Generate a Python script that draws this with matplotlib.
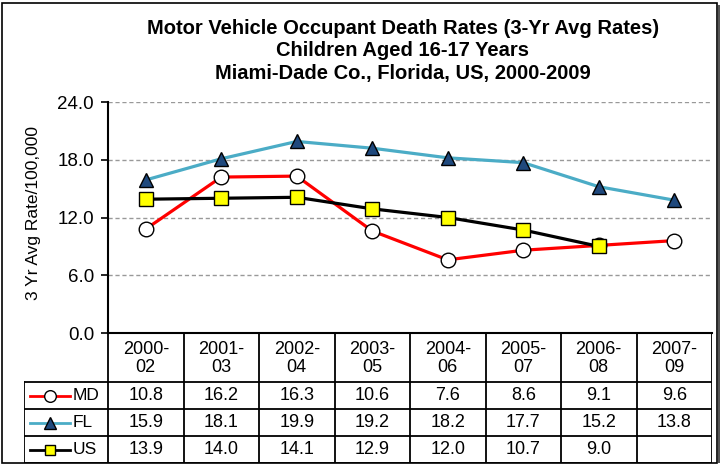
import matplotlib
matplotlib.use("Agg")
import matplotlib.pyplot as plt
from matplotlib.patches import Rectangle

plt.rcParams['font.family'] = ['Liberation Sans', 'DejaVu Sans']

# data
periods = ["2000-\n02", "2001-\n03", "2002-\n04", "2003-\n05",
           "2004-\n06", "2005-\n07", "2006-\n08", "2007-\n09"]
md = [10.8, 16.2, 16.3, 10.6, 7.6, 8.6, 9.1, 9.6]
fl = [15.9, 18.1, 19.9, 19.2, 18.2, 17.7, 15.2, 13.8]
us = [13.9, 14.0, 14.1, 12.9, 12.0, 10.7, 9.0, None]
series_names = ["MD", "FL", "US"]
yticks = [0, 6, 12, 18, 24]

W, H = 723, 465
fig = plt.figure(figsize=(W / 100, H / 100), dpi=100)

# outer border
fig.patches.append(Rectangle((2 / W, 2 / H), 715 / W, 460 / H, transform=fig.transFigure,
                             fill=False, ec="black", lw=1.2))
fig.patches.append(Rectangle((718 / W, 2 / H), 1.5 / W, 458 / H, transform=fig.transFigure,
                             fill=True, color="#555555", lw=0))

styles = [
    dict(color="#FF0000", marker="o", mfc="white", mec="black", ms=10.5, lw=2.3),
    dict(color="#4BACC6", marker="^", mfc="#1F497D", mec="black", ms=10.5, lw=2.3),
    dict(color="black", marker="s", mfc="#FFFF00", mec="black", ms=9.5, lw=2.3),
]
values = [md, fl, us]

x0, x1 = 108, 712
ax = fig.add_axes([x0 / W, (H - 333) / H, (x1 - x0) / W, (333 - 102) / H])
xs = list(range(len(periods)))
for vals, st in zip(values, styles):
    px = [x for x, v in zip(xs, vals) if v is not None]
    pv = [v for v in vals if v is not None]
    ax.plot(px, pv, mew=1.0, zorder=3, clip_on=False, **st)

ax.set_xlim(-0.5, len(periods) - 0.5)
ax.set_ylim(0, 24)
ax.set_yticks(yticks)
ax.set_yticklabels([f"{t:.1f}" for t in yticks], fontsize=13.5)
ax.set_xticks([])
for t in yticks[1:]:
    ax.axhline(t, color="#999999", lw=1, ls=(0, (3, 2)), zorder=1)
for s in ["top", "right"]:
    ax.spines[s].set_visible(False)
ax.spines["left"].set_linewidth(1.5)
ax.spines["bottom"].set_linewidth(1.5)
ax.tick_params(axis="y", length=5, width=1.2, pad=5)
ax.set_ylabel("3 Yr Avg Rate/100,000", fontsize=12.5)
ax.yaxis.set_label_coords(-67 / (x1 - x0), 0.52)

title_lines = ["Motor Vehicle Occupant Death Rates (3-Yr Avg Rates)",
               "Children Aged 16-17 Years",
               "Miami-Dade Co., Florida, US, 2000-2009"]
for line, ty in zip(title_lines, [29, 51, 73]):
    fig.text(403 / W, 1 - ty / H, line, ha="center", va="center",
             fontsize=14.5, fontweight="bold")

# data table below the plot, sharing the category scale
lx = 24
colw = (x1 - x0) / len(periods)
legw = (x0 - lx) / colw
tab = fig.add_axes([lx / W, (H - 463) / H, (x1 - lx) / W, (463 - 333) / H])
tab.set_xlim(-0.5 - legw, len(periods) - 0.5)
tab.set_ylim(130, 0)
tab.axis("off")
rows = [0, 49, 76, 103, 130]
lc = dict(color="black", lw=1.3, solid_capstyle="projecting")
left = -0.5 - legw
right = len(periods) - 0.5
for i in range(len(periods) + 1):
    tab.plot([i - 0.5, i - 0.5], [rows[0], rows[-1]], **lc)
tab.plot([left, left], [rows[1], rows[-1]], **lc)
tab.plot([-0.5, right], [rows[0], rows[0]], **lc)
for r in rows[1:]:
    tab.plot([left, right], [r, r], **lc)

for i, p in enumerate(periods):
    tab.text(i, (rows[0] + rows[1]) / 2 + 1, p, ha="center", va="center",
             fontsize=13, linespacing=1.1)
for j, (name, vals, st) in enumerate(zip(series_names, values, styles)):
    yc = (rows[j + 1] + rows[j + 2]) / 2
    for i, v in enumerate(vals):
        if v is not None:
            tab.text(i, yc, f"{v:.1f}", ha="center", va="center", fontsize=13)
    kx0 = left + 6 / colw
    kx1 = left + 46 / colw
    tab.plot([kx0, kx1], [yc, yc], color=st["color"], lw=2.0)
    tab.plot([(kx0 + kx1) / 2], [yc], ls="none", marker=st["marker"], mfc=st["mfc"],
             mec="black", ms=st["ms"] * 0.8, mew=1.0)
    tab.text(left + 49 / colw, yc, name, ha="left", va="center", fontsize=12.5)

fig.savefig("out.png", dpi=100)
